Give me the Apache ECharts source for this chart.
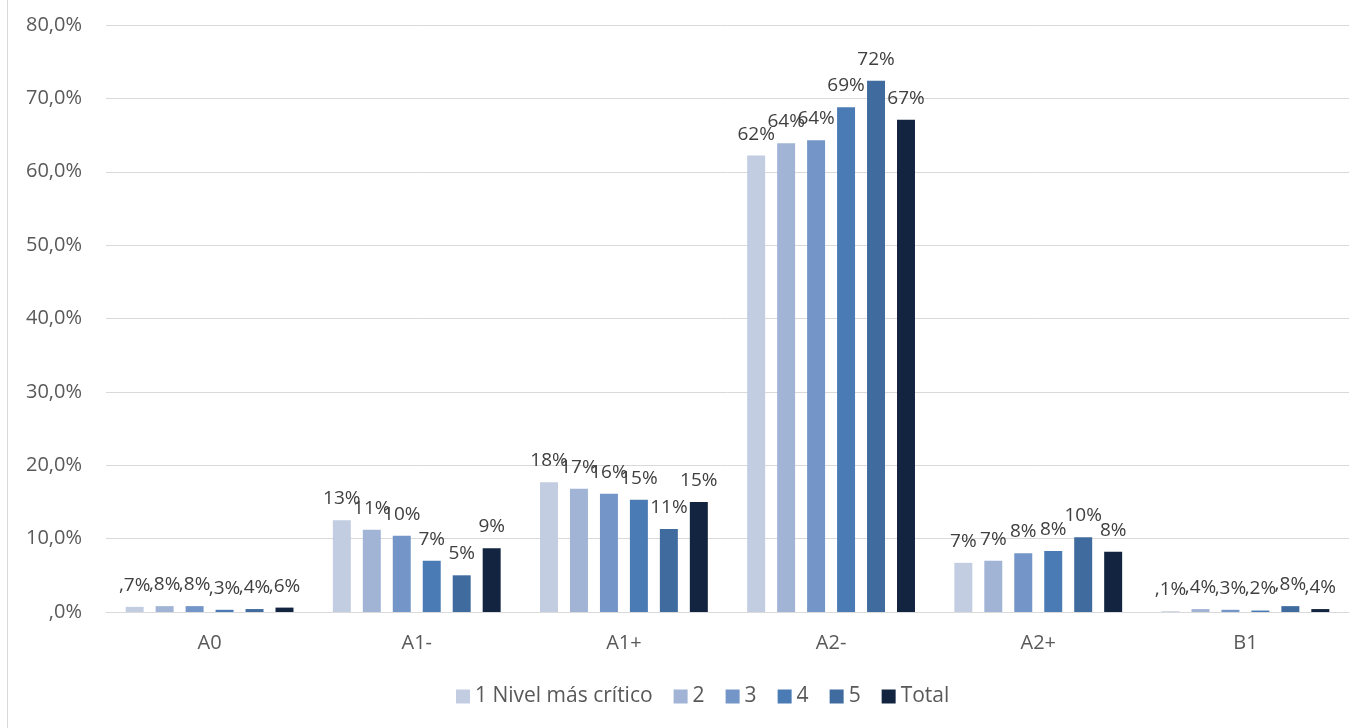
<!DOCTYPE html>
<html>
<head>
<meta charset="utf-8">
<script src="https://cdn.jsdelivr.net/npm/echarts@6/dist/echarts.min.js"></script>
<style>html,body{margin:0;padding:0;background:#fff;}#c{width:1371px;height:728px;}</style>
</head>
<body>
<div id="c"></div>
<script>
const categories = ['A0', 'A1-', 'A1+', 'A2-', 'A2+', 'B1'];
const seriesNames = ['1 Nivel más crítico', '2', '3', '4', '5', 'Total'];
const nivel1 = [0.7, 12.5, 17.7, 62.2, 6.7, 0.1];
const nivel2 = [0.8, 11.2, 16.8, 63.9, 7.0, 0.4];
const nivel3 = [0.8, 10.4, 16.1, 64.3, 8.0, 0.3];
const nivel4 = [0.3, 7.0, 15.3, 68.8, 8.3, 0.2];
const nivel5 = [0.4, 5.0, 11.3, 72.4, 10.2, 0.8];
const total = [0.6, 8.7, 15.0, 67.1, 8.2, 0.4];
const yTicks = [0, 10, 20, 30, 40, 50, 60, 70, 80];

const seriesData = [nivel1, nivel2, nivel3, nivel4, nivel5, total];
const colors = ['#c2cde2', '#a1b4d6', '#7395c7', '#4a7bb5', '#3f6b9f', '#12243f'];

function labelFmt(v) {
  if (v < 1) return ',' + Math.round(v * 10) + '%';
  return Math.round(v) + '%';
}
function axisFmt(v) {
  if (v === 0) return ',0%';
  return v.toFixed(1).replace('.', ',') + '%';
}

const chart = echarts.init(document.getElementById('c'));
chart.setOption({
  animation: false,
  backgroundColor: '#ffffff',
  textStyle: { fontFamily: 'Open Sans, Calibri, sans-serif' },
  graphic: [{
    type: 'line',
    shape: { x1: 7.5, y1: 0, x2: 7.5, y2: 728 },
    style: { stroke: '#d9d9d9', lineWidth: 1 }
  }],
  grid: { left: 106, right: 22, top: 25, bottom: 116, containLabel: false },
  legend: {
    data: seriesNames,
    bottom: 16,
    left: 451,
    itemWidth: 14,
    itemHeight: 14,
    itemGap: 21,
    icon: 'rect',
    textStyle: { fontSize: 21, color: '#595959', fontFamily: 'Open Sans, Calibri, sans-serif' }
  },
  xAxis: {
    type: 'category',
    data: categories,
    axisLine: { lineStyle: { color: '#d9d9d9', width: 1 } },
    axisTick: { show: false },
    axisLabel: { fontSize: 20, color: '#595959', margin: 21 }
  },
  yAxis: {
    type: 'value',
    min: yTicks[0],
    max: yTicks[yTicks.length - 1],
    interval: 10,
    axisLine: { show: false },
    axisTick: { show: false },
    splitLine: { lineStyle: { color: '#d9d9d9', width: 1 } },
    axisLabel: { fontSize: 20, color: '#595959', margin: 24, formatter: axisFmt }
  },
  series: seriesData.map((d, i) => ({
    name: seriesNames[i],
    type: 'bar',
    data: d,
    barGap: '66.7%',
    barCategoryGap: '19%',
    itemStyle: { color: colors[i] },
    label: {
      show: true,
      position: 'top',
      distance: 12,
      fontSize: 19,
      color: '#404040',
      formatter: p => labelFmt(p.value)
    }
  }))
});
</script>
</body>
</html>
